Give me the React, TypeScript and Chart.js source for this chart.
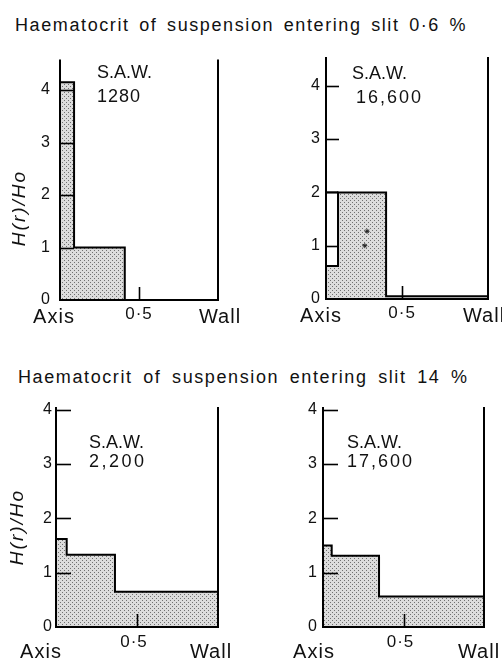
import React, { useEffect, useRef } from 'react';
import { Chart, registerables } from 'chart.js';
Chart.register(...registerables);

// ---------- data ----------
const titleTop = 'Haematocrit of suspension entering slit 0·6 %';
const titleBottom = 'Haematocrit of suspension entering slit 14 %';
const xTickLabels = ['Axis', '0·5', 'Wall'];
const xMidTick = 0.5;
const yTickValues = [0, 1, 2, 3, 4];
const yAxisTitle = 'H(r)/Ho';
const sawTitle = 'S.A.W.';
const sawLabels = ['1280', '16,600', '2,200', '17,600'];
const wallValues = [1.0, 1.065, 1.0, 1.0];
const yMaxValues = [4.58, 4.54, 4.05, 4.05];

// bin edges (radial position, axis = 0) and H(r)/Ho in each bin
const p1Edges = [0, 0.089, 0.41];
const p1Heights = [4.15, 1.0];
const p2Edges = [0, 0.079, 0.395, 1.065];
const p2Heights = [0.62, 2.0, 0.05];
const p2OpenBox = [2.0, 2.0]; // unfilled outline over the first bin
const p2Marks = [
  { x: 0.27, y: 1.27 },
  { x: 0.255, y: 1.0 },
];
const p3Edges = [0, 0.066, 0.364, 1.0];
const p3Heights = [1.62, 1.33, 0.65];
const p4Edges = [0, 0.054, 0.348, 1.0];
const p4Heights = [1.5, 1.31, 0.56];

// ---------- layout ----------
const FONT = '"Liberation Sans", Arial, sans-serif';
const LAYOUT = [
  { left: 0, top: 40, w: 250, h: 290, yW: 60, xH: 30, padT: 15, padR: 32, yPad: 10, tickLen: 14,
    saw: [97, 38], num: [97, 62], numSp: 1, yTitle: [20, 168], xDy: [23, 19], xDx: [-6, 0, 2] },
  { left: 250, top: 40, w: 252, h: 290, yW: 76, xH: 31, padT: 17, padR: 14, yPad: 6, tickLen: 13,
    saw: [102, 39], num: [106, 63], numSp: 2, yTitle: null, xDy: [23, 19], xDx: [-5, 0, -4] },
  { left: 0, top: 390, w: 250, h: 271, yW: 56, xH: 34, padT: 17, padR: 32, yPad: 4, tickLen: 15,
    saw: [89, 58], num: [89, 77], numSp: 2.5, yTitle: [18, 137], xDy: [31, 20], xDx: [-15, -3, -7] },
  { left: 250, top: 390, w: 252, h: 271, yW: 73, xH: 34, padT: 17, padR: 18, yPad: 6, tickLen: 15,
    saw: [97, 58], num: [97, 77], numSp: 2, yTitle: null, xDy: [31, 20], xDx: [-9, -3, -5] },
];

function stepPoints(edges: number[], heights: number[]) {
  return edges.map((e, i) => ({ x: e, y: i < heights.length ? heights[i] : 0 }));
}

const PANELS = [
  { edges: p1Edges, heights: p1Heights, extra: 'none' },
  { edges: p2Edges, heights: p2Heights, extra: 'box' },
  { edges: p3Edges, heights: p3Heights, extra: 'none' },
  { edges: p4Edges, heights: p4Heights, extra: 'none' },
];

function makePattern(ctx: CanvasRenderingContext2D) {
  const c = document.createElement('canvas');
  c.width = 4;
  c.height = 4;
  const g = c.getContext('2d')!;
  g.fillStyle = '#dcdcdc';
  g.fillRect(0, 0, 4, 4);
  g.fillStyle = '#707070';
  g.fillRect(0, 0, 1, 1);
  g.fillRect(2, 2, 1, 1);
  return ctx.createPattern(c, 'repeat');
}

function Panel({ idx }: { idx: number }) {
  const ref = useRef<HTMLCanvasElement>(null);
  const L = LAYOUT[idx];
  useEffect(() => {
    const canvas = ref.current!;
    const ctx0 = canvas.getContext('2d')!;
    const pattern = makePattern(ctx0);
    const P = PANELS[idx];
    const wall = wallValues[idx];

    const datasets: any[] = [
      {
        type: 'line',
        data: stepPoints(P.edges, P.heights),
        stepped: 'before',
        fill: 'origin',
        backgroundColor: pattern,
        borderColor: '#000',
        borderWidth: 2,
        pointRadius: 0,
        borderJoinStyle: 'miter',
      },
    ];
    if (P.extra === 'box') {
      datasets.unshift({
        type: 'line',
        data: [
          { x: p2Edges[0], y: p2OpenBox[0] },
          { x: p2Edges[1], y: p2OpenBox[1] },
        ],
        fill: false,
        borderColor: '#000',
        borderWidth: 2,
        pointRadius: 0,
      });
      datasets.unshift({
        type: 'scatter',
        data: p2Marks,
        showLine: false,
        pointStyle: 'star',
        pointRadius: 2.5,
        borderColor: '#222',
        borderWidth: 1,
        backgroundColor: '#222',
      });
    }

    const decor = {
      id: 'decor',
      afterDraw(chart: any) {
        const { ctx, chartArea: a, scales } = chart;
        const x = scales.x;
        const y = scales.y;
        const bottom = Math.round(y.getPixelForValue(0));
        const left = Math.round(x.getPixelForValue(0));
        const wallPx = Math.round(x.getPixelForValue(wall));
        ctx.save();
        ctx.strokeStyle = '#000';
        ctx.lineCap = 'butt';
        ctx.lineWidth = 2;
        const line = (x1: number, y1: number, x2: number, y2: number) => {
          ctx.beginPath();
          ctx.moveTo(x1, y1);
          ctx.lineTo(x2, y2);
          ctx.stroke();
        };
        line(left, a.top, left, bottom + 1);
        line(wallPx, a.top, wallPx, bottom + 1);
        line(left, bottom, wallPx, bottom);
        ctx.lineWidth = 1.6;
        yTickValues.forEach((v) => {
          if (v === 0) return;
          const py = Math.round(y.getPixelForValue(v)) + 0.5;
          line(left, py, left + L.tickLen, py);
        });
        const mx = Math.round(x.getPixelForValue(xMidTick)) + 0.5;
        line(mx, bottom, mx, bottom - 13);

        // x labels
        ctx.fillStyle = '#111';
        ctx.textAlign = 'center';
        ctx.textBaseline = 'alphabetic';
        const xVals = [0, xMidTick, wall];
        xVals.forEach((v, i) => {
          const mid = i === 1;
          ctx.font = `${mid ? 17 : 20}px ${FONT}`;
          (ctx as any).letterSpacing = '1px';
          ctx.fillText(xTickLabels[i], x.getPixelForValue(v) + L.xDx[i], bottom + (mid ? L.xDy[1] : L.xDy[0]));
        });

        // S.A.W. annotation
        ctx.textAlign = 'left';
        ctx.font = `18px ${FONT}`;
        (ctx as any).letterSpacing = '0px';
        ctx.fillText(sawTitle, L.saw[0], L.saw[1]);
        (ctx as any).letterSpacing = `${L.numSp}px`;
        ctx.fillText(sawLabels[idx], L.num[0], L.num[1]);

        // y axis title
        if (L.yTitle) {
          ctx.save();
          ctx.translate(L.yTitle[0], L.yTitle[1]);
          ctx.rotate(-Math.PI / 2);
          ctx.textAlign = 'center';
          ctx.textBaseline = 'middle';
          ctx.font = `italic 19px ${FONT}`;
          (ctx as any).letterSpacing = '2px';
          ctx.fillText(yAxisTitle, 0, 0);
          ctx.restore();
        }
        ctx.restore();
      },
    };

    const chart = new Chart(canvas, {
      type: 'line',
      data: { datasets },
      options: {
        animation: false,
        responsive: false,
        devicePixelRatio: 1,
        layout: { padding: { top: L.padT, right: L.padR, left: 0, bottom: 0 } },
        plugins: { legend: { display: false }, tooltip: { enabled: false } },
        scales: {
          x: {
            type: 'linear',
            min: 0,
            max: wall,
            ticks: { display: false },
            grid: { display: false, drawTicks: false },
            border: { display: false },
            afterFit: (s: any) => {
              s.height = L.xH;
            },
          },
          y: {
            type: 'linear',
            min: 0,
            max: yMaxValues[idx],
            ticks: {
              font: { size: 16, family: FONT },
              color: '#111',
              padding: L.yPad,
            },
            grid: { display: false, drawTicks: false },
            border: { display: false },
            afterBuildTicks: (s: any) => {
              s.ticks = yTickValues.map((v) => ({ value: v }));
            },
            afterFit: (s: any) => {
              s.width = L.yW;
            },
          },
        },
      } as any,
      plugins: [decor],
    });
    return () => chart.destroy();
  }, [idx]);
  return (
    <canvas
      ref={ref}
      width={L.w}
      height={L.h}
      style={{ position: 'absolute', left: L.left, top: L.top, width: L.w, height: L.h }}
    />
  );
}

const titleStyle: React.CSSProperties = {
  position: 'absolute',
  fontFamily: FONT,
  fontSize: 18,
  lineHeight: '18px',
  letterSpacing: '1.6px',
  wordSpacing: '3px',
  whiteSpace: 'pre',
  color: '#111',
};

export default function App() {
  return (
    <div style={{ position: 'absolute', left: 0, top: 0, width: 502, height: 661, background: '#fff' }}>
      <div style={{ ...titleStyle, left: 15, top: 16 }}>{titleTop}</div>
      <div style={{ ...titleStyle, left: 18, top: 368, wordSpacing: '4px' }}>{titleBottom}</div>
      {[0, 1, 2, 3].map((i) => (
        <Panel key={i} idx={i} />
      ))}
    </div>
  );
}
